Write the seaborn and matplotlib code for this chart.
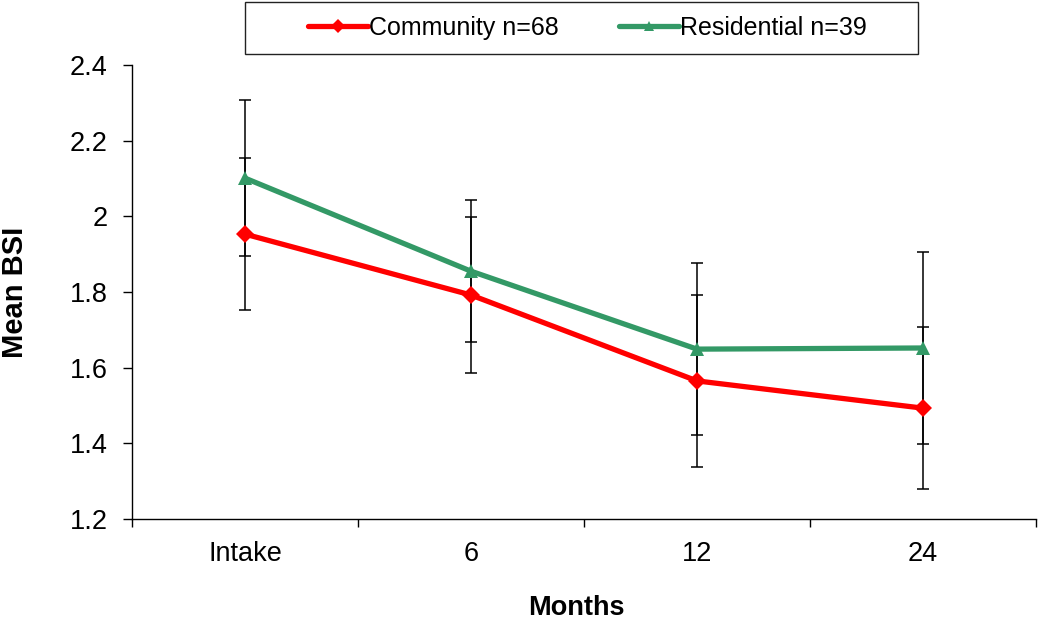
import matplotlib
matplotlib.use("Agg")
import matplotlib.pyplot as plt
from matplotlib.patches import Rectangle
from matplotlib.ticker import FuncFormatter, FixedLocator
import seaborn as sns
import pandas as pd
import numpy as np

# ---- data ----
months = ["Intake", "6", "12", "24"]
community = [1.953, 1.792, 1.565, 1.493]
community_err = [0.200, 0.207, 0.227, 0.215]
residential = [2.101, 1.855, 1.649, 1.652]
residential_err = [0.206, 0.187, 0.228, 0.253]
series_names = ["Community n=68", "Residential n=39"]
yticks = [1.2, 1.4, 1.6, 1.8, 2.0, 2.2, 2.4]

sns.set_theme(style="white")
plt.rcParams["font.family"] = ["Liberation Sans", "DejaVu Sans"]
plt.rcParams.update({"text.color": "black", "axes.labelcolor": "black",
                     "xtick.color": "black", "ytick.color": "black"})

FS = 19.5
pos = np.arange(len(months))
df_c = pd.DataFrame({"pos": pos, "value": community, "group": series_names[0]})
df_r = pd.DataFrame({"pos": pos, "value": residential, "group": series_names[1]})

fig = plt.figure(figsize=(10.4, 6.24), dpi=100)
ax = fig.add_axes([132/1040, 1-519/624, 904/1040, 454/624])

# error bars (behind the lines)
ax.errorbar(pos, residential, yerr=residential_err, fmt="none", ecolor="black",
            elinewidth=1.1, capsize=4.3, capthick=1.1, zorder=1)
ax.errorbar(pos, community, yerr=community_err, fmt="none", ecolor="black",
            elinewidth=1.1, capsize=4.3, capthick=1.1, zorder=1)

sns.lineplot(data=df_r, x="pos", y="value", ax=ax, color="#339966",
             linewidth=3.8, marker="^", markersize=10.5, markeredgewidth=0,
             legend=False, zorder=3)
sns.lineplot(data=df_c, x="pos", y="value", ax=ax, color="#FF0000",
             linewidth=3.8, marker="D", markersize=9.5, markeredgewidth=0,
             legend=False, zorder=4)

ax.set_xlim(-0.5, len(months) - 0.5)
ax.set_ylim(1.2, 2.4)
ax.set_yticks(yticks)
ax.yaxis.set_major_formatter(FuncFormatter(lambda v, p: f"{v:g}"))
ax.set_xticks(pos)
ax.set_xticklabels(months)
ax.xaxis.set_minor_locator(FixedLocator(np.arange(-0.5, len(months), 1.0)))

for s in ["top", "right"]:
    ax.spines[s].set_visible(False)
for s in ["left", "bottom"]:
    ax.spines[s].set_color("black")
    ax.spines[s].set_linewidth(1.0)

ax.tick_params(axis="y", which="major", direction="out", length=6.5, width=1,
               color="black", labelsize=FS, pad=11, left=True)
ax.tick_params(axis="x", which="major", length=0, labelsize=FS, pad=16)
ax.tick_params(axis="x", which="minor", direction="out", length=6, width=1,
               color="black", bottom=True)
ax.grid(False)

ax.set_xlabel("Months", fontsize=FS, fontweight="bold", va="center")
ax.xaxis.set_label_coords(0.492, -(608-519)/454)
ax.set_ylabel("Mean BSI", fontsize=21, fontweight="bold", va="center")
ax.yaxis.set_label_coords((15-132)/904, 0.5)

# legend above plot
handles = ax.get_lines()
h_r = [l for l in handles if l.get_color() == "#339966"][0]
h_c = [l for l in handles if l.get_color() == "#FF0000"][0]
fig.legend([h_c, h_r], series_names, loc="center", bbox_to_anchor=(587/1040, 1-28/624),
           ncol=2, frameon=False, fontsize=18, handlelength=2.4, handletextpad=0.05,
           columnspacing=2.4, borderpad=0, markerscale=0.75)
fig.patches.append(Rectangle((245/1040, 1-54/624), 673/1040, 52/624,
                             transform=fig.transFigure, fill=False,
                             edgecolor="#222222", linewidth=1.0))

fig.savefig("out.png", dpi=100, facecolor="white")
